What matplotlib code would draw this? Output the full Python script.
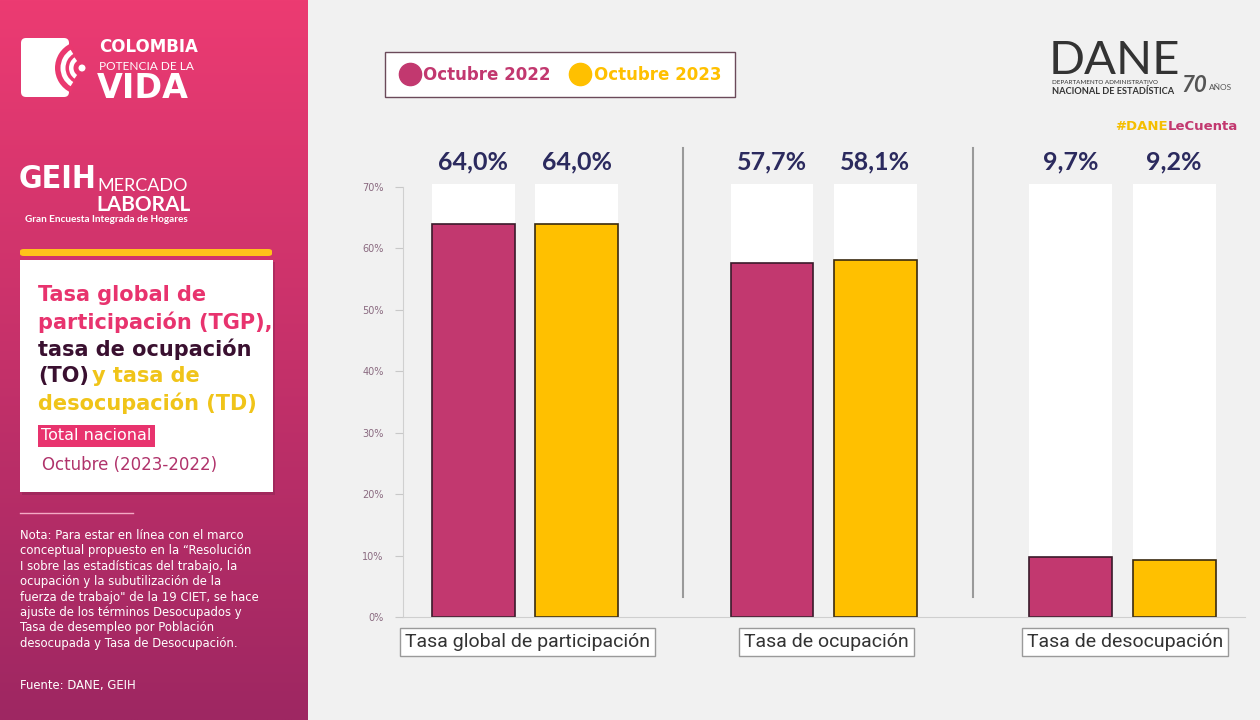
import numpy as np
import matplotlib
matplotlib.use("Agg")
import matplotlib.pyplot as plt
from matplotlib.patches import Rectangle, FancyBboxPatch, Wedge, Circle
from matplotlib.lines import Line2D
from matplotlib import font_manager
import matplotlib.colors as mcolors

# data
categories = ["Tasa global de participación", "Tasa de ocupación", "Tasa de desocupación"]
series_names = ["Octubre 2022", "Octubre 2023"]
oct_2022 = [64.0, 57.7, 9.7]
oct_2023 = [64.0, 58.1, 9.2]
yticks = [0, 10, 20, 30, 40, 50, 60, 70]

PINK = "#C2386F"
YELLOW = "#FFC000"
NAVY = "#2B2A5E"
W, H = 1260, 720


def px(x, y):
    # pixel position -> figure fraction
    return x / W, 1 - y / H


def pin(x, y):
    # pixel position -> inches (keeps circles round)
    return x / 100, (H - y) / 100


# condensed face for the GEIH logo if one is installed
has_condensed = any(f.name == "DejaVu Sans" and f.stretch == "condensed"
                    for f in font_manager.fontManager.ttflist)

fig = plt.figure(figsize=(12.6, 7.2), dpi=100, facecolor="#F1F1F1")
ins = fig.dpi_scale_trans

# ---- left panel with gradient
side = fig.add_axes([0, 0, 308 / W, 1])
c_top = np.array(mcolors.to_rgb("#EC3B72"))
c_bot = np.array(mcolors.to_rgb("#9E2762"))
t = np.linspace(0, 1, 256)[:, None, None]
grad = c_top * (1 - t) + c_bot * t
grad = np.repeat(grad, 2, axis=1)
side.imshow(grad, aspect="auto", extent=[0, 1, 0, 1])
side.axis("off")

# colombia logo
fig.patches.append(FancyBboxPatch(pin(21, 97), 0.48, 0.59, boxstyle="round,pad=0,rounding_size=0.05",
                                  transform=ins, fc="white", ec="none"))
fig.patches.append(Wedge(pin(82, 68), 0.27, 115, 245, transform=ins, fc="#EA386F", ec="none"))
fig.patches.append(Wedge(pin(82, 68), 0.215, 122, 238, width=0.05, transform=ins, fc="white", ec="none"))
fig.patches.append(Wedge(pin(82, 68), 0.13, 125, 235, width=0.045, transform=ins, fc="white", ec="none"))
fig.patches.append(Circle(pin(82, 68), 0.035, transform=ins, fc="white", ec="none"))
fig.text(*px(99, 47), "COLOMBIA", color="white", fontsize=12, fontweight="bold",
         family="DejaVu Sans", va="center")
fig.text(*px(99, 67), "POTENCIA DE LA", color="white", fontsize=8.6, family="Lato", va="center")
fig.text(*px(97, 88), "VIDA", color="white", fontsize=24, fontweight="bold", family="DejaVu Sans", va="center")

# GEIH logo
if has_condensed:
    fig.text(*px(19, 180), "GEIH", color="white", fontsize=23, fontweight="bold",
             family="DejaVu Sans", fontstretch="condensed", va="center")
else:
    fig.text(*px(19, 180), "GEIH", color="white", fontsize=22, fontweight="bold", family="Roboto", va="center")
fig.text(*px(97, 186), "MERCADO", color="white", fontsize=13, family="Lato", va="center")
fig.text(*px(96, 205), "LABORAL", color="white", fontsize=15, fontweight="bold", family="Lato", va="center")
fig.text(*px(25, 219), "Gran Encuesta Integrada de Hogares", color="white", fontsize=7.2,
         fontweight="bold", family="Lato", va="center")

# card
fig.patches.append(FancyBboxPatch(px(20, 256), 252 / W, 7 / H, boxstyle="round,pad=0,rounding_size=0.003",
                                  transform=fig.transFigure, fc="#FFC21A", ec="none"))
fig.patches.append(Rectangle(px(22, 495), 253 / W, 233 / H, transform=fig.transFigure,
                             fc="#7A1F4A", ec="none", alpha=0.35))
fig.patches.append(Rectangle(px(20, 492), 253 / W, 232 / H, transform=fig.transFigure, fc="white", ec="none"))
title_kw = dict(fontsize=15, fontweight="bold", family="DejaVu Sans", va="center")
fig.text(*px(38, 295), "Tasa global de", color="#E8336E", **title_kw)
fig.text(*px(38, 322), "participación (TGP),", color="#E8336E", **title_kw)
fig.text(*px(38, 349), "tasa de ocupación", color="#3A1030", **title_kw)
fig.text(*px(38, 376), "(TO)", color="#3A1030", **title_kw)
fig.text(*px(92, 376), "y tasa de", color="#F0C419", **title_kw)
fig.text(*px(38, 403), "desocupación (TD)", color="#F0C419", **title_kw)
fig.text(*px(41, 436), "Total nacional", color="white", fontsize=11.5, family="DejaVu Sans", va="center",
         bbox=dict(boxstyle="square,pad=0.2", fc="#E8336E", ec="none"))
fig.text(*px(42, 465), "Octubre (2023-2022)", color="#B0336B", fontsize=12, family="DejaVu Sans", va="center")

fig.add_artist(Line2D([20 / W, 133 / W], [1 - 513 / H] * 2, color="#F4A9C4", lw=1, transform=fig.transFigure))
note = ("Nota: Para estar en línea con el marco\n"
        "conceptual propuesto en la “Resolución\n"
        "I sobre las estadísticas del trabajo, la\n"
        "ocupación y la subutilización de la\n"
        "fuerza de trabajo\" de la 19 CIET, se hace\n"
        "ajuste de los términos Desocupados y\n"
        "Tasa de desempleo por Población\n"
        "desocupada y Tasa de Desocupación.")
fig.text(*px(20, 529), note, color="white", fontsize=8.4, family="DejaVu Sans", va="top", linespacing=1.24)
fig.text(*px(20, 685), "Fuente: DANE, GEIH", color="white", fontsize=8.4, family="DejaVu Sans", va="center")

# ---- DANE logo top right
fig.text(*px(1049, 61), "DANE", color="#333333", fontsize=34, family="Lato", va="center")
fig.text(*px(1052, 83), "DEPARTAMENTO ADMINISTRATIVO", color="#333333", fontsize=4.5, family="Lato", va="center")
fig.text(*px(1052, 92), "NACIONAL DE ESTADÍSTICA", color="#333333", fontsize=6.7, fontweight="bold",
         family="Lato", va="center")
fig.text(*px(1181, 85), "70", color="#555555", fontsize=16, fontweight="bold", style="italic",
         family="Lato", va="center")
fig.text(*px(1209, 87), "AÑOS", color="#555555", fontsize=6, family="Lato", va="center")
fig.text(*px(1168, 126), "#DANE", color="#F5BE00", fontsize=9.5, fontweight="bold",
         family="DejaVu Sans", va="center", ha="right")
fig.text(*px(1168, 126), "LeCuenta", color="#C2386F", fontsize=9.5, fontweight="bold",
         family="DejaVu Sans", va="center", ha="left")

# ---- main chart
ax = fig.add_axes([403 / W, 1 - 617 / H, (1245 - 403) / W, 430 / H])
ax.set_facecolor("none")
x = np.arange(len(categories))
off, bw = 0.173, 0.277
ax.bar(x - off, [70.5] * 3, bw, color="white", zorder=1, clip_on=False)
ax.bar(x + off, [70.5] * 3, bw, color="white", zorder=1, clip_on=False)
ax.bar(x - off, oct_2022, bw, color=PINK, edgecolor="#3A1A2A", linewidth=1.2, zorder=2)
ax.bar(x + off, oct_2023, bw, color=YELLOW, edgecolor="#3A2A10", linewidth=1.2, zorder=2)

for xi, v in zip(x - off, oct_2022):
    ax.text(xi, 74.1, f"{v:.1f}%".replace(".", ","), ha="center", va="center",
            fontsize=18, fontweight="bold", family="Lato", color=NAVY)
for xi, v in zip(x + off, oct_2023):
    ax.text(xi, 74.1, f"{v:.1f}%".replace(".", ","), ha="center", va="center",
            fontsize=18, fontweight="bold", family="Lato", color=NAVY)

# separators between groups
for sx in (0.528, 1.5):
    ax.plot([sx, sx], [3.3, 76.4], color="#9A9A9A", lw=1.5, clip_on=False, zorder=1)

ax.set_xlim(-0.408, 2.41)
ax.set_ylim(0, 70)
ax.set_yticks(yticks)
ax.set_yticklabels([f"{v}%" for v in yticks])
ax.tick_params(axis="y", length=6, color="#C8C8C8", labelcolor="#8A6A80", labelsize=7, pad=8)
ax.set_xticks([])
for s in ("top", "right"):
    ax.spines[s].set_visible(False)
ax.spines["left"].set_color("#D0D0D0")
ax.spines["bottom"].set_color("#CFCFCF")

for xi, c in zip(x, categories):
    ax.text(xi + 0.01, -0.058, c, transform=ax.get_xaxis_transform(), ha="center", va="center",
            fontsize=14, family="Roboto", color="#333333",
            bbox=dict(boxstyle="square,pad=0.25", fc="white", ec="#9A9A9A", lw=1))

# legend
handles = [Line2D([], [], marker="o", ls="", ms=16, color=PINK),
           Line2D([], [], marker="o", ls="", ms=16, color=YELLOW)]
leg = fig.legend(handles, series_names, loc="center", bbox_to_anchor=(559.5 / W, 1 - 74.5 / H), ncol=2,
                 frameon=True, fancybox=False, edgecolor="#6B4A5A", facecolor="white", framealpha=1,
                 handletextpad=0.1, columnspacing=1.1, handlelength=1.4, borderpad=0.8,
                 prop=dict(family="DejaVu Sans", weight="bold", size=12))
for txt, c in zip(leg.get_texts(), [PINK, YELLOW]):
    txt.set_color(c)

fig.savefig("out.png", dpi=100, facecolor=fig.get_facecolor())
